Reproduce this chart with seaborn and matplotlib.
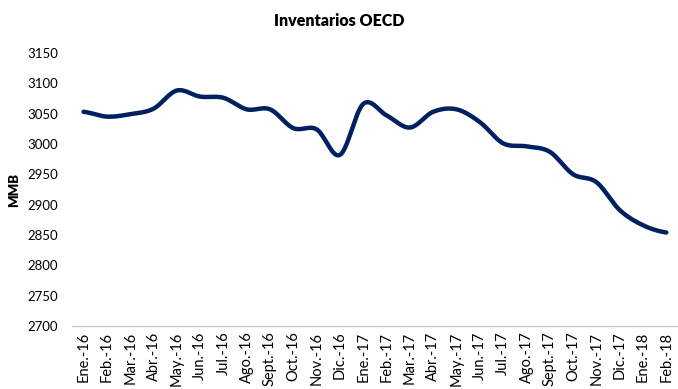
import numpy as np
import pandas as pd
import matplotlib
matplotlib.use("Agg")
import matplotlib.pyplot as plt
import seaborn as sns

months = ["Ene.-16", "Feb.-16", "Mar.-16", "Abr.-16", "May.-16", "Jun.-16", "Jul.-16",
          "Ago.-16", "Sept.-16", "Oct.-16", "Nov.-16", "Dic.-16", "Ene.-17", "Feb.-17",
          "Mar.-17", "Abr.-17", "May.-17", "Jun.-17", "Jul.-17", "Ago.-17", "Sept.-17",
          "Oct.-17", "Nov.-17", "Dic.-17", "Ene.-18", "Feb.-18"]
inventarios = [3053, 3045, 3049, 3058, 3088, 3078, 3076, 3057, 3057, 3026, 3024, 2982,
               3066, 3047, 3027, 3053, 3057, 3036, 3001, 2996, 2987, 2950, 2937, 2891,
               2866, 2854]
yticks = [2700, 2750, 2800, 2850, 2900, 2950, 3000, 3050, 3100, 3150]

sns.set_theme(style="white")
plt.rcParams['font.family'] = ['Lato', 'DejaVu Sans']
plt.rcParams['text.color'] = 'black'

# Excel-like smoothed line (Catmull-Rom through the data points)
def catmull_rom(y, n=30):
    y = np.asarray(y, float)
    p = np.concatenate([[y[0]], y, [y[-1]]])
    xs, ys = [], []
    for i in range(len(y) - 1):
        p0, p1, p2, p3 = p[i], p[i + 1], p[i + 2], p[i + 3]
        t = np.linspace(0, 1, n, endpoint=False)
        v = 0.5 * ((2 * p1) + (-p0 + p2) * t + (2 * p0 - 5 * p1 + 4 * p2 - p3) * t ** 2
                   + (-p0 + 3 * p1 - 3 * p2 + p3) * t ** 3)
        xs.append(i + t)
        ys.append(v)
    xs.append([len(y) - 1])
    ys.append([y[-1]])
    return np.concatenate(xs), np.concatenate(ys)

sx, sy = catmull_rom(inventarios)
df = pd.DataFrame({"x": sx, "y": sy})

fig = plt.figure(figsize=(6.78, 3.89), dpi=100)
ax = fig.add_axes([0.106, 0.162, 0.894, 0.702])
sns.lineplot(data=df, x="x", y="y", ax=ax, color="#002060", linewidth=3.2,
             solid_capstyle="round", sort=False)

ax.set_xlim(-0.5, len(months) - 0.5)
ax.set_ylim(2700, 3150)
ax.set_yticks(yticks)
ax.set_yticklabels([str(v) for v in yticks], fontsize=9.5, color="black")
ax.set_xticks(range(len(months)))
ax.set_xticklabels(months, rotation=90, fontsize=10.5, color="black")
ax.set_xticks(np.arange(-0.5, len(months), 1.0), minor=True)
ax.tick_params(axis="x", which="major", length=0, pad=4)
ax.tick_params(axis="x", which="minor", length=4, color="#BFBFBF", width=0.8)
ax.tick_params(axis="y", length=0, pad=10)

for s in ["top", "right", "left"]:
    ax.spines[s].set_visible(False)
ax.spines["bottom"].set_color("#BFBFBF")
ax.spines["bottom"].set_linewidth(0.8)

ax.set_xlabel("")
ax.set_ylabel("MMB", fontsize=9.5, fontweight="heavy", color="black")
ax.yaxis.set_label_coords(-0.085, 0.5)
fig.text(0.5, 0.945, "Inventarios OECD", ha="center", va="center",
         fontsize=11.5, fontweight="heavy", color="black")

fig.savefig("out.png", dpi=100)
